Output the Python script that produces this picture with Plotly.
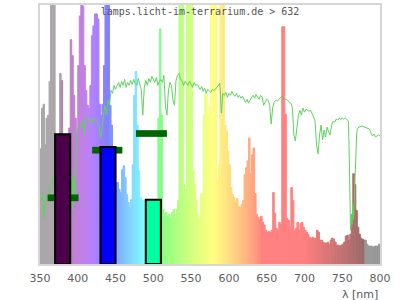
import numpy as np
import plotly.graph_objects as go

# ---- data -------------------------------------------------------------
# lamp spectrum, 2 nm bins starting at 350 nm (relative height)
spec_start = np.arange(350, 800, 2)
spec_vals = [
    116, 157, 161, 120, 147, 150, 184, 300, 300, 280,   # 350-368
    120, 110, 115, 192, 185, 120, 110, 105, 110, 137,   # 370-388
    226, 210, 170, 147, 132, 200, 250, 300, 260, 200,   # 390-408
    175, 160, 157, 180, 230, 240, 252, 252, 247, 161,   # 410-428
    150, 161, 200, 300, 300, 300, 160, 140, 110, 95,    # 430-448
    82, 82, 75, 72, 95, 99, 87, 70, 62, 57,             # 450-468
    65, 100, 170, 194, 140, 94, 67, 64, 64, 62,         # 470-488
    60, 58, 58, 58, 58, 58, 58, 60, 147, 237,           # 490-508
    150, 55, 50, 52, 48, 50, 47, 52, 55, 50,            # 510-528
    55, 64, 300, 300, 300, 80, 75, 300, 300, 300,       # 530-548
    300, 94, 80, 64, 50, 47, 70, 71, 150, 171,          # 550-568
    171, 150, 160, 300, 300, 300, 300, 84, 100, 300,    # 570-588
    300, 300, 140, 134, 114, 100, 77, 70, 67, 63,       # 590-608
    66, 58, 57, 60, 64, 90, 97, 104, 127, 91,           # 610-628
    110, 117, 71, 50, 47, 45, 48, 42, 39, 34,           # 630-648
    32, 33, 32, 34, 72, 51, 36, 34, 42, 40,             # 650-668
    239, 239, 151, 46, 44, 37, 77, 64, 34, 36,          # 670-688
    42, 34, 41, 42, 37, 34, 32, 30, 27, 26,             # 690-708
    27, 26, 26, 34, 32, 24, 24, 22, 21, 21,             # 710-728
    22, 20, 24, 26, 25, 22, 19, 19, 18, 19,             # 730-748
    20, 22, 28, 29, 24, 30, 50, 91, 80, 54,             # 750-768
    37, 30, 26, 25, 24, 24, 20, 18, 18, 18,             # 770-788
    17, 18, 18, 18, 20,                                 # 790-798
]

# reference (sunlight) curve
sun_wl = [351.5, 353, 354.5, 355.5, 357, 359, 361, 363, 365, 367.5, 370, 375, 380,
          385, 389, 390.5, 391.5, 392.5, 393.5, 394.5, 395.5, 396.5, 397.5, 399,
          400, 402, 404, 406, 408, 409, 410, 412, 414, 416, 418, 420, 422, 424,
          426, 428, 430, 432, 434, 436, 438, 440, 442, 444, 446, 448, 450, 452,
          454, 456, 458, 460, 462, 464, 466, 468, 470, 472, 474, 476, 478, 480,
          482, 484, 486, 488, 490, 492, 494, 496, 498, 500, 502, 504, 506, 508,
          510, 512, 514, 516, 518, 520, 522, 524, 526, 528, 530, 532, 534, 536,
          538, 540, 542, 544, 546, 548, 550, 552, 554, 556, 558, 560, 562, 564,
          566, 568, 570, 572, 574, 576, 578, 580, 582, 584, 586, 588, 590, 592,
          594, 596, 598, 600, 602, 604, 606, 608, 610, 612, 614, 616, 618, 620,
          622, 624, 626, 628, 630, 632, 634, 636, 638, 640, 642, 644, 646, 648,
          650, 652, 654, 656, 658, 660, 662, 664, 666, 668, 670, 672, 674, 676,
          678, 680, 682, 684, 686, 688, 690, 692, 694, 696, 698, 700, 702, 704,
          706, 708, 710, 712, 714, 716, 718, 720, 722, 724, 726, 728, 730, 732,
          734, 736, 738, 740, 742, 744, 746, 748, 750, 752, 754, 756, 758, 759,
          760, 761, 762, 763, 764, 765, 766, 767, 768, 769, 770, 772, 776, 780,
          784, 786, 788, 790, 792, 794, 796, 798, 800]
sun_h = [64, 72, 60, 47, 64, 69, 66, 77, 79, 86, 82, 86, 88,
         95, 100, 101, 60, 85, 55, 90, 80, 65, 110, 131,
         137, 140, 137, 144, 144, 130, 144, 149, 146, 144, 141, 147, 144, 146,
         142, 140, 127, 135, 150, 160, 150, 165, 160, 175, 172, 180, 176, 180,
         183, 178, 184, 180, 186, 178, 183, 180, 185, 181, 186, 182, 180, 187,
         182, 176, 150, 178, 185, 180, 187, 183, 189, 186, 183, 188, 180, 184,
         186, 183, 190, 160, 150, 175, 183, 180, 165, 160, 185, 190, 192, 186,
         185, 180, 184, 182, 180, 184, 181, 178, 183, 180, 181, 178, 176, 179,
         174, 177, 172, 176, 174, 173, 176, 175, 176, 178, 181, 182, 152, 172,
         170, 173, 168, 172, 170, 174, 171, 169, 172, 168, 170, 167, 169, 165,
         163, 166, 162, 165, 168, 170, 167, 171, 168, 166, 170, 168, 160, 164,
         166, 165, 160, 141, 158, 163, 165, 164, 166, 167, 169, 168, 166, 166,
         165, 163, 162, 158, 130, 124, 140, 150, 155, 150, 157, 153, 156, 155,
         154, 155, 152, 148, 145, 120, 111, 130, 140, 125, 135, 128, 138, 133,
         130, 140, 144, 143, 146, 145, 147, 146, 147, 146, 147, 146, 144, 120,
         40, 34, 50, 40, 60, 45, 64, 90, 110, 130, 136, 138, 139, 138,
         137, 136, 132, 129, 131, 128, 129, 130, 129]

# lamp output in bands (outlined bars)
band_center = [380, 440, 500]
band_vals = [130.7, 118, 64.7]
band_colors = ["#4b0049", "#0000ff", "#00ffa0"]

# target levels (dark green markers)
target_start = [360, 419, 477]
target_end = [401, 459, 518]
target_vals = [66.7, 114.7, 131.5]


# ---- colour of a wavelength (style) ----------------------------------
def wl_color(w):
    if w < 379:
        return "#aba6ab"
    if w >= 781:
        return "#999999"
    if w < 440:
        r, g, b = -(w - 440) / 60, 0, 1
    elif w < 490:
        r, g, b = 0, (w - 440) / 50, 1
    elif w < 510:
        r, g, b = 0, 1, -(w - 510) / 20
    elif w < 580:
        r, g, b = (w - 510) / 70, 1, 0
    elif w < 645:
        r, g, b = 1, -(w - 645) / 65, 0
    else:
        r, g, b = 1, 0, 0
    if w < 420:
        f = 0.3 + 0.7 * (w - 380) / 40
    elif w > 700:
        f = 0.3 + 0.7 * (780 - w) / 80
    else:
        f = 1.0
    cols = []
    for c in (r, g, b):
        v = 255 * (c * f) ** 0.8 if c > 0 else 0
        cols.append(int(round(0.5 * v + 0.5 * 255 * (0.75 + 0.25 * f if w > 700 else 1))))
    return "rgb(%d,%d,%d)" % tuple(cols)


spec_x = [s + 1 for s in spec_start]
spec_cols = [wl_color(x) for x in spec_x]

fig = go.Figure()
fig.add_trace(go.Bar(x=spec_x, y=spec_vals, width=2,
                     marker=dict(color=spec_cols, line=dict(color=spec_cols, width=1)),
                     hoverinfo="skip", showlegend=False))
fig.add_trace(go.Scatter(x=sun_wl, y=sun_h, mode="lines",
                         line=dict(color="#5fd35f", width=1),
                         showlegend=False, hoverinfo="skip"))
for s, e, v in zip(target_start, target_end, target_vals):
    fig.add_trace(go.Scatter(x=[s, e], y=[v, v], mode="lines",
                             line=dict(color="#006400", width=6.7),
                             showlegend=False, hoverinfo="skip"))
fig.add_trace(go.Bar(x=band_center, y=band_vals, width=20,
                     marker=dict(color=band_colors, line=dict(color="#000000", width=2)),
                     xaxis="x2", yaxis="y2", showlegend=False, hoverinfo="skip"))

fig.update_layout(
    width=400, height=300,
    margin=dict(l=40, r=20, t=3, b=36),
    paper_bgcolor="white", plot_bgcolor="white",
    title=dict(text="lamps.licht-im-terrarium.de &gt; 632", x=0.5, xref="container",
               xanchor="center", y=1 - 11.5 / 300, yref="container", yanchor="middle",
               font=dict(family="DejaVu Sans Mono", size=10, color="#555555")),
    xaxis=dict(range=[350, 800], tickmode="array",
               tickvals=[350, 400, 450, 500, 550, 600, 650, 700, 750, 800],
               showgrid=False, zeroline=False, showline=True, mirror=True,
               linecolor="#d6d6d6", linewidth=2, ticks="", ticklabelstandoff=3,
               tickfont=dict(family="DejaVu Sans", size=11, color="#606060")),
    yaxis=dict(range=[0, 261], showgrid=False, zeroline=False, showline=True,
               mirror=True, linecolor="#d6d6d6", linewidth=2, showticklabels=False,
               ticks=""),
    xaxis2=dict(range=[350, 800], overlaying="x", visible=False),
    yaxis2=dict(range=[0, 261], overlaying="y", visible=False),
    annotations=[dict(text="λ [nm]", xref="paper", yref="paper", x=1, y=-(295 - 264) / 261,
                      xanchor="right", yanchor="middle", showarrow=False,
                      font=dict(family="DejaVu Sans", size=11, color="#555555"))],
)

fig.write_html("out.html")
